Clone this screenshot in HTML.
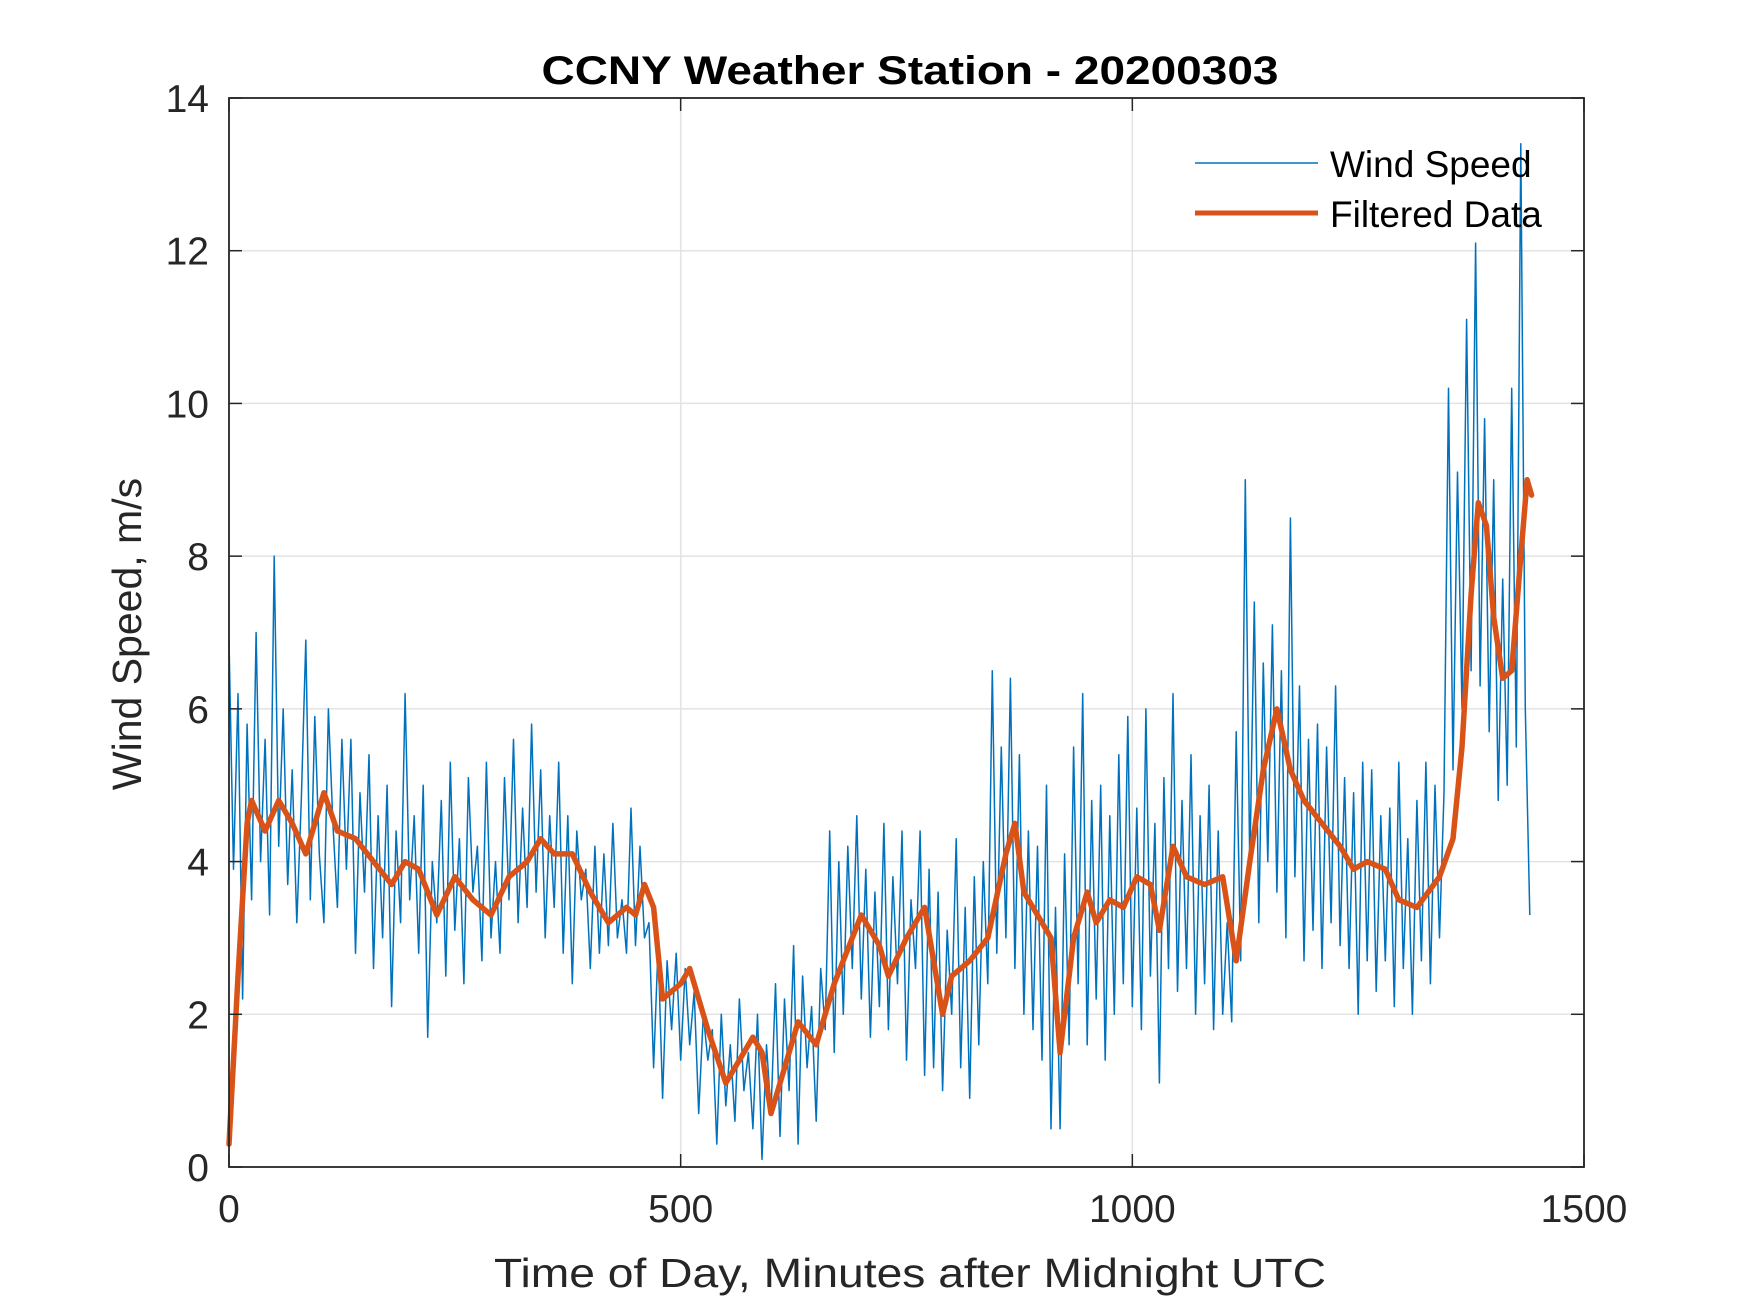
<!DOCTYPE html>
<html><head><meta charset="utf-8"><style>
html,body{margin:0;padding:0;background:#fff;}
svg{display:block;font-family:"Liberation Sans",Arial,sans-serif;}
</style></head><body>
<svg id="chart" width="1750" height="1313" viewBox="0 0 1750 1313" xmlns="http://www.w3.org/2000/svg">
<rect width="1750" height="1313" fill="#fff"/>
<g id="grid"></g>
<g id="plot"></g>
<g id="axes"></g>
<text x="910" y="84" font-size="40" font-weight="bold" text-anchor="middle" fill="#000" textLength="737" lengthAdjust="spacingAndGlyphs">CCNY Weather Station - 20200303</text>
<text x="910" y="1287" font-size="41" text-anchor="middle" fill="#262626" textLength="832" lengthAdjust="spacingAndGlyphs">Time of Day, Minutes after Midnight UTC</text>
<text transform="translate(141,634) rotate(-90)" font-size="41" text-anchor="middle" fill="#262626">Wind Speed, m/s</text>
<g>
<line x1="1195" y1="163" x2="1318" y2="163" stroke="#0072BD" stroke-width="1.5"/>
<text x="1330" y="177" font-size="37" fill="#000">Wind Speed</text>
<line x1="1195" y1="213" x2="1318" y2="213" stroke="#D95319" stroke-width="5"/>
<text x="1330" y="227" font-size="37" fill="#000">Filtered Data</text>
</g>
</svg>
<script>
const xTicks=[0,500,1000,1500];
const yTicks=[0,2,4,6,8,10,12,14];
const rawStep=5;
const rawValues=[
6.9,3.9,6.2,2.2,5.8,3.5,7.0,4.0,5.6,3.3,8.0,4.2,
6.0,3.7,5.2,3.2,4.8,6.9,3.5,5.9,4.1,3.2,6.0,4.5,
3.4,5.6,3.9,5.6,2.8,4.9,3.6,5.4,2.6,4.6,3.0,5.0,
2.1,4.4,3.2,6.2,3.5,4.6,2.8,5.0,1.7,4.0,3.2,4.8,
2.5,5.3,3.1,4.3,2.4,5.1,3.6,4.2,2.7,5.3,3.0,4.0,
2.8,5.1,3.5,5.6,3.2,4.7,3.4,5.8,3.6,5.2,3.0,4.6,
3.4,5.3,2.8,4.6,2.4,4.4,3.5,3.9,2.6,4.2,2.8,4.1,
2.9,4.5,3.0,3.5,2.8,4.7,2.9,4.2,3.0,3.2,1.3,2.9,
0.9,2.7,1.8,2.8,1.4,2.6,1.6,2.3,0.7,2.0,1.4,1.8,
0.3,2.0,0.8,1.6,0.6,2.2,1.0,1.5,0.5,2.0,0.1,1.6,
0.7,2.4,0.4,2.2,1.0,2.9,0.3,2.5,1.3,2.1,0.6,2.6,
1.8,4.4,1.5,4.0,2.0,4.2,2.6,4.6,2.2,3.9,1.7,3.6,
2.1,4.5,1.8,3.8,2.4,4.4,1.4,3.5,2.6,4.4,1.2,3.9,
1.3,3.6,1.0,3.1,2.0,4.3,1.3,3.4,0.9,3.8,1.6,4.0,
2.4,6.5,2.8,5.5,3.0,6.4,2.6,5.4,2.0,4.4,1.8,4.2,
1.4,5.0,0.5,3.4,0.5,4.1,1.6,5.5,2.4,6.2,1.6,4.8,
2.2,5.0,1.4,4.6,2.0,5.4,2.4,5.9,2.1,4.7,1.8,6.0,
2.5,4.5,1.1,5.1,2.6,6.2,2.3,4.8,2.6,5.4,2.0,4.6,
2.4,5.0,1.8,4.4,2.0,3.2,1.9,5.7,2.7,9.0,3.9,7.4,
3.2,6.6,4.0,7.1,3.6,6.5,3.0,8.5,3.8,6.3,2.7,5.6,
3.1,5.8,2.6,5.5,3.2,6.3,2.9,5.1,2.6,4.9,2.0,5.3,
2.7,5.2,2.3,4.6,2.7,4.7,2.1,5.3,2.6,4.3,2.0,4.8,
2.7,5.3,2.4,5.0,3.0,4.9,10.2,5.2,9.1,6.0,11.1,6.5,
12.1,6.3,9.8,5.7,9.0,4.8,7.7,5.0,10.2,5.5,13.4,6.0,
3.3];
const filtMinutes=[0,10,20,25,40,55,70,85,105,120,140,160,180,195,210,230,250,270,290,310,330,345,360,380,400,420,440,450,460,470,480,500,510,530,550,570,580,590,600,620,630,650,670,690,700,720,730,750,770,790,800,820,840,860,870,880,900,910,920,935,950,960,975,990,1005,1020,1030,1045,1060,1080,1100,1115,1130,1145,1160,1175,1190,1210,1230,1245,1260,1280,1295,1315,1340,1355,1365,1375,1383,1392,1400,1410,1420,1430,1437,1442];
const filtValues=[0.3,2.5,4.5,4.8,4.4,4.8,4.5,4.1,4.9,4.4,4.3,4.0,3.7,4.0,3.9,3.3,3.8,3.5,3.3,3.8,4.0,4.3,4.1,4.1,3.6,3.2,3.4,3.3,3.7,3.4,2.2,2.4,2.6,1.8,1.1,1.5,1.7,1.5,0.7,1.5,1.9,1.6,2.4,3.0,3.3,2.9,2.5,3.0,3.4,2.0,2.5,2.7,3.0,4.1,4.5,3.6,3.2,3.0,1.5,3.0,3.6,3.2,3.5,3.4,3.8,3.7,3.1,4.2,3.8,3.7,3.8,2.7,4.0,5.2,6.0,5.2,4.8,4.5,4.2,3.9,4.0,3.9,3.5,3.4,3.8,4.3,5.5,7.5,8.7,8.4,7.2,6.4,6.5,8.0,9.0,8.8];

const L=229,R=1584,T=98,B=1167;
const xs=v=>L+(v-0)/(1500-0)*(R-L);
const ys=v=>B-(v-0)/(14-0)*(B-T);
const NS="http://www.w3.org/2000/svg";
function mk(tag,attrs,parent){const e=document.createElementNS(NS,tag);for(const k in attrs)e.setAttribute(k,attrs[k]);parent.appendChild(e);return e;}
const grid=document.getElementById('grid'),axes=document.getElementById('axes'),plot=document.getElementById('plot');

xTicks.forEach(t=>{
  const x=xs(t);
  if(t>0&&t<1500){const g=mk('line',{x1:x,y1:T,x2:x,y2:B,stroke:'#e3e3e3','stroke-width':1.5},grid);
  
  }
  const a=mk('line',{x1:x,y1:B,x2:x,y2:B-13,stroke:'#262626','stroke-width':1.5},axes);
  
  
  const b=mk('line',{x1:x,y1:T,x2:x,y2:T+13,stroke:'#262626','stroke-width':1.5},axes);
  
  
  const tx=mk('text',{x:x,y:B+55,'font-size':39,'text-anchor':'middle',fill:'#262626'},axes);
  tx.textContent=t;
  
  
});
yTicks.forEach(t=>{
  const y=ys(t);
  if(t>0&&t<14){const g=mk('line',{x1:L,y1:y,x2:R,y2:y,stroke:'#e3e3e3','stroke-width':1.5},grid);
  
  }
  const a=mk('line',{x1:L,y1:y,x2:L+13,y2:y,stroke:'#262626','stroke-width':1.5},axes);
  
  
  const b=mk('line',{x1:R,y1:y,x2:R-13,y2:y,stroke:'#262626','stroke-width':1.5},axes);
  
  
  const tx=mk('text',{x:L-20,y:y+14,'font-size':39,'text-anchor':'end',fill:'#262626'},axes);
  tx.textContent=t;
  
  
});
const box=mk('rect',{x:L,y:T,width:R-L,height:B-T,fill:'none',stroke:'#262626','stroke-width':1.8},axes);



const rawD=rawValues.map((v,i)=>(i?'L':'M')+xs(i*rawStep).toFixed(1)+','+ys(v).toFixed(1)).join('');
const rp=mk('path',{d:rawD,fill:'none',stroke:'#0072BD','stroke-width':1.5,'stroke-linejoin':'round'},plot);


const fD=filtValues.map((v,i)=>(i?'L':'M')+xs(filtMinutes[i]).toFixed(1)+','+ys(v).toFixed(1)).join('');
const fp=mk('path',{d:fD,fill:'none',stroke:'#D95319','stroke-width':5.5,'stroke-linejoin':'round','stroke-linecap':'round'},plot);


</script>
</body></html>
